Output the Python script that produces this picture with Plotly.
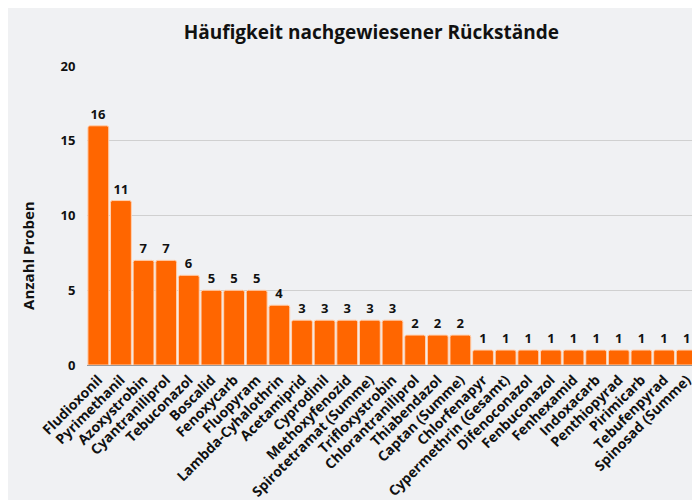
import plotly.graph_objects as go

categories = ["Fludioxonil", "Pyrimethanil", "Azoxystrobin", "Cyantraniliprol", "Tebuconazol",
              "Boscalid", "Fenoxycarb", "Fluopyram", "Lambda-Cyhalothrin", "Acetamiprid",
              "Cyprodinil", "Methoxyfenozid", "Spirotetramat (Summe)", "Trifloxystrobin",
              "Chlorantraniliprol", "Thiabendazol", "Captan (Summe)", "Chlorfenapyr",
              "Cypermethrin (Gesamt)", "Difenoconazol", "Fenbuconazol", "Fenhexamid",
              "Indoxacarb", "Penthiopyrad", "Pirimicarb", "Tebufenpyrad", "Spinosad (Summe)"]
counts = [16, 11, 7, 7, 6, 5, 5, 5, 4, 3, 3, 3, 3, 3, 2, 2, 2, 1, 1, 1, 1, 1, 1, 1, 1, 1, 1]
y_ticks = [0, 5, 10, 15, 20]

FONT = "Open Sans"

fig = go.Figure(go.Bar(
    x=categories, y=counts,
    marker=dict(color="#ff6600", line=dict(color="#ffd0b0", width=1), cornerradius=2),
    text=counts, textposition="outside", cliponaxis=False,
    textfont=dict(family=FONT, size=13, color="#111111", weight="bold"),
))

fig.update_layout(
    width=700, height=500,
    paper_bgcolor="#f0f1f3", plot_bgcolor="#f0f1f3",
    margin=dict(l=79, r=10, t=58, b=143),
    bargap=0.08,
    font=dict(family=FONT, color="#111111"),
    title=dict(text="Häufigkeit nachgewiesener Rückstände", x=0.519, xanchor="center",
               y=0.952, yanchor="middle",
               font=dict(family=FONT, size=19, color="#111111", weight="bold")),
    showlegend=False,
    annotations=[dict(text="Anzahl Proben", textangle=-90, xref="paper", yref="paper",
                      x=-0.0966, y=0.368, xanchor="center", yanchor="middle", showarrow=False,
                      font=dict(family=FONT, size=15, weight="bold", color="#111111"))],
)
fig.update_xaxes(tickangle=-45, tickfont=dict(family=FONT, size=14, weight="bold", color="#111111"),
                 showgrid=False, showline=False, ticks="", automargin=False,
                 ticklabelstandoff=3)
fig.update_yaxes(range=[0, 20], tickvals=y_ticks, showgrid=True, gridcolor="#d0d0d0", gridwidth=1,
                 zeroline=True, zerolinecolor="#999999", zerolinewidth=1, automargin=False,
                 tickfont=dict(family=FONT, size=13, weight="bold", color="#111111"),
                 ticks="outside", ticklen=8, tickcolor="rgba(0,0,0,0)")

fig.write_html("out.html")
